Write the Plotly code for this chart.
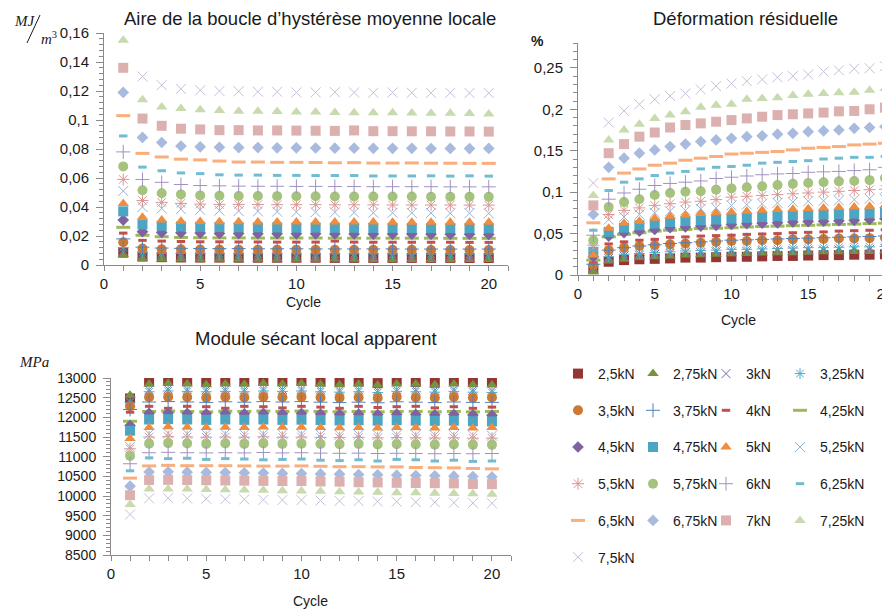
import plotly.graph_objects as go

cycles = list(range(1, 21))
load_labels = ["2,5kN", "2,75kN", "3kN", "3,25kN", "3,5kN", "3,75kN", "4kN", "4,25kN",
               "4,5kN", "4,75kN", "5kN", "5,25kN", "5,5kN", "5,75kN", "6kN", "6,25kN",
               "6,5kN", "6,75kN", "7kN", "7,25kN", "7,5kN"]

# ---- Aire de la boucle d'hystérèse moyenne locale (MJ/m3) ----
aire_250 = [0.0085, 0.0058, 0.0054, 0.0052, 0.0051, 0.0051, 0.005, 0.005, 0.005, 0.005, 0.005, 0.0049, 0.0049, 0.0049, 0.0049, 0.0049, 0.0049, 0.0049, 0.0048, 0.0048]
aire_275 = [0.0072, 0.0045, 0.0042, 0.0041, 0.004, 0.004, 0.004, 0.0039, 0.0039, 0.0039, 0.0039, 0.0039, 0.0039, 0.0038, 0.0038, 0.0038, 0.0038, 0.0038, 0.0038, 0.0038]
aire_300 = [0.009, 0.0062, 0.0058, 0.0056, 0.0055, 0.0055, 0.0054, 0.0054, 0.0054, 0.0054, 0.0053, 0.0053, 0.0053, 0.0053, 0.0053, 0.0053, 0.0052, 0.0052, 0.0052, 0.0052]
aire_325 = [0.012, 0.0085, 0.008, 0.0079, 0.0078, 0.0078, 0.0077, 0.0077, 0.0077, 0.0076, 0.0076, 0.0076, 0.0076, 0.0076, 0.0075, 0.0075, 0.0075, 0.0075, 0.0075, 0.0075]
aire_350 = [0.0157, 0.0113, 0.0109, 0.0108, 0.0107, 0.0107, 0.0106, 0.0106, 0.0106, 0.0106, 0.0105, 0.0105, 0.0105, 0.0105, 0.0105, 0.0105, 0.0104, 0.0104, 0.0104, 0.0104]
aire_375 = [0.018, 0.0123, 0.0117, 0.0115, 0.0114, 0.0113, 0.0113, 0.0112, 0.0112, 0.0112, 0.0111, 0.0111, 0.0111, 0.0111, 0.0111, 0.011, 0.011, 0.011, 0.011, 0.011]
aire_400 = [0.022, 0.017, 0.0165, 0.0162, 0.016, 0.016, 0.0159, 0.0159, 0.0158, 0.0158, 0.0158, 0.0165, 0.0158, 0.0157, 0.0157, 0.0157, 0.0157, 0.0157, 0.0156, 0.0156]
aire_425 = [0.026, 0.0205, 0.0195, 0.019, 0.0188, 0.0187, 0.0187, 0.0186, 0.0186, 0.0186, 0.0186, 0.0185, 0.0185, 0.0185, 0.0185, 0.0185, 0.0185, 0.0184, 0.0184, 0.0184]
aire_450 = [0.031, 0.023, 0.0225, 0.0222, 0.022, 0.0218, 0.0217, 0.0216, 0.0216, 0.0215, 0.0215, 0.0214, 0.0214, 0.0213, 0.0213, 0.0213, 0.0212, 0.0212, 0.0212, 0.0211]
aire_475 = [0.037, 0.028, 0.027, 0.0266, 0.0264, 0.0262, 0.026, 0.026, 0.0259, 0.0258, 0.0258, 0.0257, 0.0257, 0.0256, 0.0256, 0.0255, 0.0255, 0.0255, 0.0254, 0.0254]
aire_500 = [0.0425, 0.033, 0.031, 0.0302, 0.03, 0.0298, 0.0298, 0.0297, 0.0297, 0.0297, 0.0296, 0.0296, 0.0296, 0.0296, 0.0295, 0.0295, 0.0295, 0.0295, 0.0295, 0.0295]
aire_525 = [0.051, 0.04, 0.039, 0.0385, 0.038, 0.0375, 0.0372, 0.037, 0.0368, 0.0365, 0.0364, 0.0363, 0.0362, 0.036, 0.036, 0.0359, 0.0358, 0.0357, 0.0357, 0.0356]
aire_550 = [0.059, 0.0445, 0.0432, 0.0425, 0.042, 0.0418, 0.0418, 0.0417, 0.0416, 0.0416, 0.0416, 0.0415, 0.0415, 0.0415, 0.0414, 0.0414, 0.0414, 0.0414, 0.0413, 0.0413]
aire_575 = [0.068, 0.0515, 0.0495, 0.0487, 0.048, 0.0478, 0.0476, 0.0476, 0.0475, 0.0474, 0.0474, 0.0473, 0.0473, 0.0472, 0.0472, 0.0472, 0.0471, 0.0471, 0.0471, 0.047]
aire_600 = [0.078, 0.059, 0.057, 0.0555, 0.0548, 0.0546, 0.0544, 0.0543, 0.0543, 0.0542, 0.0542, 0.0541, 0.0541, 0.054, 0.054, 0.054, 0.054, 0.0539, 0.0539, 0.0539]
aire_625 = [0.089, 0.0675, 0.065, 0.0635, 0.063, 0.0622, 0.062, 0.062, 0.0618, 0.0618, 0.0617, 0.0617, 0.0617, 0.0614, 0.0614, 0.0614, 0.0615, 0.0613, 0.0615, 0.0613]
aire_650 = [0.103, 0.077, 0.0745, 0.073, 0.0725, 0.0717, 0.071, 0.071, 0.0708, 0.0708, 0.0707, 0.0705, 0.0706, 0.0703, 0.0703, 0.0704, 0.0702, 0.0702, 0.0701, 0.0701]
aire_675 = [0.119, 0.088, 0.0845, 0.082, 0.0815, 0.0812, 0.081, 0.081, 0.0808, 0.0808, 0.0807, 0.0806, 0.0806, 0.0805, 0.0805, 0.0805, 0.0803, 0.0804, 0.0803, 0.0804]
aire_700 = [0.136, 0.101, 0.096, 0.094, 0.0935, 0.093, 0.093, 0.0928, 0.0928, 0.0927, 0.0926, 0.0925, 0.0928, 0.0923, 0.0923, 0.0922, 0.0922, 0.0921, 0.0921, 0.092]
aire_725 = [0.155, 0.114, 0.109, 0.108, 0.107, 0.1065, 0.106, 0.106, 0.1058, 0.1055, 0.1055, 0.1052, 0.105, 0.105, 0.105, 0.1048, 0.1047, 0.1046, 0.1045, 0.1042]
aire_750 = [0.178, 0.13, 0.124, 0.1215, 0.1205, 0.12, 0.1198, 0.1195, 0.1195, 0.119, 0.119, 0.1192, 0.119, 0.1188, 0.119, 0.1188, 0.1187, 0.1188, 0.1186, 0.1186]

# ---- Déformation résiduelle (%) ----
def_250 = [0.007, 0.016, 0.018, 0.019, 0.0195, 0.02, 0.021, 0.021, 0.0215, 0.022, 0.022, 0.0225, 0.023, 0.023, 0.0235, 0.024, 0.024, 0.0245, 0.0245, 0.025]
def_275 = [0.004, 0.017, 0.019, 0.021, 0.022, 0.023, 0.024, 0.0245, 0.025, 0.0255, 0.026, 0.0265, 0.027, 0.027, 0.0275, 0.028, 0.028, 0.0285, 0.0285, 0.029]
def_300 = [0.009, 0.02, 0.023, 0.024, 0.025, 0.026, 0.027, 0.027, 0.028, 0.028, 0.0285, 0.029, 0.029, 0.0295, 0.03, 0.03, 0.0305, 0.031, 0.031, 0.032]
def_325 = [0.01, 0.022, 0.025, 0.026, 0.027, 0.028, 0.029, 0.0295, 0.03, 0.031, 0.031, 0.0315, 0.032, 0.0325, 0.033, 0.033, 0.0335, 0.034, 0.034, 0.0345]
def_350 = [0.012, 0.03, 0.033, 0.035, 0.036, 0.037, 0.038, 0.039, 0.04, 0.041, 0.041, 0.042, 0.042, 0.043, 0.043, 0.0435, 0.044, 0.044, 0.0445, 0.045]
def_375 = [0.013, 0.03, 0.033, 0.035, 0.0365, 0.038, 0.039, 0.04, 0.041, 0.042, 0.0425, 0.043, 0.0435, 0.044, 0.0445, 0.045, 0.0455, 0.046, 0.0465, 0.047]
def_400 = [0.016, 0.0375, 0.04, 0.042, 0.043, 0.0455, 0.046, 0.047, 0.0475, 0.048, 0.049, 0.0495, 0.05, 0.051, 0.0515, 0.052, 0.053, 0.0535, 0.054, 0.0545]
def_425 = [0.018, 0.046, 0.049, 0.051, 0.053, 0.054, 0.055, 0.056, 0.0565, 0.057, 0.058, 0.0585, 0.059, 0.0595, 0.06, 0.0605, 0.061, 0.0615, 0.062, 0.0625]
def_450 = [0.022, 0.047, 0.051, 0.053, 0.055, 0.057, 0.058, 0.059, 0.06, 0.061, 0.062, 0.0625, 0.063, 0.064, 0.0645, 0.065, 0.0655, 0.066, 0.067, 0.068]
def_475 = [0.028, 0.052, 0.057, 0.06, 0.062, 0.064, 0.065, 0.066, 0.067, 0.068, 0.069, 0.07, 0.071, 0.072, 0.0725, 0.073, 0.0735, 0.074, 0.0745, 0.075]
def_500 = [0.024, 0.0565, 0.0625, 0.065, 0.0685, 0.071, 0.072, 0.0745, 0.075, 0.076, 0.077, 0.078, 0.079, 0.0795, 0.08, 0.081, 0.0815, 0.082, 0.083, 0.084]
def_525 = [0.033, 0.067, 0.07, 0.073, 0.075, 0.077, 0.078, 0.08, 0.081, 0.084, 0.085, 0.086, 0.087, 0.088, 0.089, 0.0895, 0.09, 0.091, 0.092, 0.092]
def_550 = [0.036, 0.073, 0.078, 0.081, 0.084, 0.086, 0.088, 0.089, 0.091, 0.094, 0.095, 0.096, 0.097, 0.098, 0.099, 0.1, 0.101, 0.102, 0.103, 0.1035]
def_575 = [0.042, 0.082, 0.088, 0.0915, 0.0965, 0.099, 0.1005, 0.101, 0.103, 0.1045, 0.106, 0.107, 0.1085, 0.11, 0.111, 0.112, 0.113, 0.1135, 0.1145, 0.117]
def_600 = [0.048, 0.0915, 0.099, 0.1035, 0.108, 0.1105, 0.112, 0.1135, 0.1165, 0.118, 0.1195, 0.121, 0.122, 0.1225, 0.124, 0.1245, 0.125, 0.126, 0.127, 0.13]
def_625 = [0.054, 0.102, 0.112, 0.116, 0.12, 0.123, 0.125, 0.128, 0.13, 0.131, 0.1325, 0.135, 0.136, 0.137, 0.138, 0.14, 0.141, 0.142, 0.142, 0.143]
def_650 = [0.063, 0.116, 0.123, 0.128, 0.1325, 0.135, 0.1385, 0.141, 0.143, 0.146, 0.147, 0.148, 0.149, 0.151, 0.153, 0.154, 0.155, 0.157, 0.158, 0.159]
def_675 = [0.073, 0.13, 0.141, 0.147, 0.151, 0.155, 0.158, 0.161, 0.163, 0.165, 0.167, 0.168, 0.17, 0.171, 0.173, 0.174, 0.175, 0.177, 0.178, 0.179]
def_700 = [0.084, 0.147, 0.158, 0.167, 0.172, 0.178, 0.181, 0.183, 0.185, 0.187, 0.189, 0.191, 0.193, 0.194, 0.195, 0.196, 0.1975, 0.198, 0.2, 0.202]
def_725 = [0.096, 0.163, 0.175, 0.182, 0.189, 0.193, 0.197, 0.2025, 0.205, 0.206, 0.212, 0.213, 0.214, 0.2165, 0.218, 0.219, 0.22, 0.2205, 0.223, 0.225]
def_750 = [0.111, 0.184, 0.198, 0.206, 0.212, 0.216, 0.219, 0.224, 0.228, 0.231, 0.234, 0.236, 0.2385, 0.24, 0.242, 0.2455, 0.247, 0.249, 0.2495, 0.252]

# ---- Module sécant local apparent (MPa) ----
mod_250 = [12480, 12920, 12940, 12930, 12900, 12935, 12925, 12945, 12930, 12950, 12925, 12910, 12920, 12870, 12950, 12900, 12880, 12950, 12930, 12920]
mod_275 = [12560, 12840, 12860, 12850, 12830, 12850, 12840, 12860, 12850, 12860, 12840, 12830, 12840, 12820, 12850, 12845, 12830, 12850, 12830, 12820]
mod_300 = [12420, 12700, 12720, 12710, 12700, 12710, 12700, 12720, 12710, 12720, 12700, 12690, 12700, 12680, 12710, 12700, 12690, 12710, 12690, 12680]
mod_325 = [12380, 12650, 12670, 12660, 12650, 12660, 12650, 12670, 12660, 12670, 12650, 12640, 12650, 12630, 12660, 12650, 12640, 12660, 12640, 12630]
mod_350 = [12280, 12510, 12520, 12510, 12500, 12515, 12505, 12520, 12510, 12520, 12505, 12495, 12505, 12490, 12515, 12505, 12495, 12515, 12500, 12505]
mod_375 = [12200, 12390, 12400, 12390, 12380, 12395, 12385, 12400, 12390, 12400, 12385, 12375, 12385, 12370, 12395, 12385, 12375, 12390, 12380, 12380]
mod_400 = [12130, 12280, 12230, 12280, 12270, 12230, 12280, 12270, 12240, 12280, 12260, 12230, 12280, 12250, 12270, 12280, 12240, 12270, 12230, 12260]
mod_425 = [11900, 12150, 12160, 12150, 12140, 12155, 12150, 12160, 12150, 12160, 12150, 12140, 12150, 12140, 12150, 12150, 12140, 12150, 12140, 12150]
mod_450 = [11790, 12100, 12110, 12100, 12090, 12100, 12090, 12100, 12090, 12095, 12085, 12075, 12080, 12070, 12080, 12075, 12065, 12070, 12060, 12050]
mod_475 = [11660, 11945, 11955, 11945, 11935, 11945, 11935, 11945, 11935, 11940, 11930, 11920, 11925, 11915, 11925, 11915, 11910, 11915, 11900, 11895]
mod_500 = [11460, 11740, 11760, 11750, 11740, 11750, 11740, 11755, 11745, 11750, 11740, 11735, 11740, 11730, 11740, 11735, 11730, 11740, 11730, 11740]
mod_525 = [11250, 11580, 11590, 11580, 11570, 11580, 11570, 11580, 11570, 11575, 11565, 11555, 11560, 11550, 11555, 11550, 11545, 11550, 11540, 11535]
mod_550 = [11200, 11500, 11510, 11500, 11495, 11500, 11495, 11505, 11495, 11500, 11490, 11485, 11490, 11480, 11485, 11480, 11475, 11480, 11470, 11470]
mod_575 = [11020, 11330, 11345, 11335, 11325, 11335, 11325, 11335, 11325, 11330, 11320, 11315, 11320, 11310, 11315, 11310, 11305, 11310, 11300, 11300]
mod_600 = [10820, 11100, 11110, 11100, 11095, 11100, 11095, 11105, 11095, 11100, 11090, 11085, 11090, 11080, 11085, 11080, 11075, 11080, 11075, 11080]
mod_625 = [10640, 10970, 10950, 10960, 10930, 10950, 10940, 10920, 10930, 10940, 10910, 10900, 10920, 10890, 10930, 10920, 10890, 10910, 10880, 10890]
mod_650 = [10455, 10765, 10780, 10770, 10770, 10770, 10765, 10760, 10760, 10765, 10755, 10745, 10745, 10740, 10740, 10725, 10720, 10715, 10700, 10690]
mod_675 = [10250, 10610, 10615, 10605, 10600, 10595, 10590, 10585, 10575, 10570, 10560, 10555, 10545, 10540, 10530, 10520, 10515, 10505, 10495, 10485]
mod_700 = [10020, 10405, 10410, 10405, 10400, 10395, 10390, 10385, 10380, 10380, 10370, 10365, 10350, 10345, 10335, 10330, 10325, 10320, 10305, 10300]
mod_725 = [9785, 10175, 10180, 10175, 10165, 10160, 10150, 10145, 10135, 10130, 10120, 10110, 10100, 10095, 10085, 10080, 10070, 10065, 10055, 10045]
mod_750 = [9530, 9940, 9945, 9935, 9930, 9920, 9915, 9905, 9900, 9895, 9885, 9875, 9870, 9860, 9855, 9845, 9840, 9830, 9820, 9815]

x_ticks = [0, 5, 10, 15, 20]
aire_ticks = [0, 0.02, 0.04, 0.06, 0.08, 0.1, 0.12, 0.14, 0.16]
aire_ticktext = ["0", "0,02", "0,04", "0,06", "0,08", "0,1", "0,12", "0,14", "0,16"]
def_ticks = [0, 0.05, 0.1, 0.15, 0.2, 0.25]
def_ticktext = ["0", "0,05", "0,1", "0,15", "0,2", "0,25"]
mod_ticks = [8500, 9000, 9500, 10000, 10500, 11000, 11500, 12000, 12500, 13000]
mod_ticktext = ["8500", "9000", "9500", "10000", "10500", "11000", "11500", "12000", "12500", "13000"]

aire_all = [aire_250, aire_275, aire_300, aire_325, aire_350, aire_375, aire_400, aire_425, aire_450, aire_475,
            aire_500, aire_525, aire_550, aire_575, aire_600, aire_625, aire_650, aire_675, aire_700, aire_725, aire_750]
def_all = [def_250, def_275, def_300, def_325, def_350, def_375, def_400, def_425, def_450, def_475,
           def_500, def_525, def_550, def_575, def_600, def_625, def_650, def_675, def_700, def_725, def_750]
mod_all = [mod_250, mod_275, mod_300, mod_325, mod_350, mod_375, mod_400, mod_425, mod_450, mod_475,
           mod_500, mod_525, mod_550, mod_575, mod_600, mod_625, mod_650, mod_675, mod_700, mod_725, mod_750]

# styles: (symbol, size, color, line width)
styles = [
    ("square", 10, "#943634", 0),
    ("triangle-up", 10, "#77933C", 0),
    ("x-thin-open", 9, "#8064A2", 1),
    ("asterisk-open", 9, "#4BACC6", 1),
    ("circle", 10, "#CC7A33", 0),
    ("cross-thin-open", 10, "#4F81BD", 1),
    ("line-ew-open", 6, "#C0504D", 3),
    ("line-ew-open", 10, "#9BBB59", 3),
    ("diamond", 9, "#7F62A0", 0),
    ("square", 10, "#4BA5C3", 0),
    ("triangle-up", 10, "#F08C3E", 0),
    ("x-thin-open", 10, "#95B3D7", 1),
    ("asterisk-open", 10, "#D99694", 1),
    ("circle", 10, "#A5C37D", 0),
    ("cross-thin-open", 10, "#A092C0", 1),
    ("line-ew-open", 6, "#72BCD2", 3),
    ("line-ew-open", 10, "#F9AE7C", 3),
    ("diamond", 9, "#A8BADD", 0),
    ("square", 10, "#DDB0B0", 0),
    ("triangle-up", 10, "#C8DAAE", 0),
    ("x-thin-open", 10, "#CABED9", 1),
]

SANS = "Liberation Sans, Arial, sans-serif"
SERIF = "Liberation Serif, Times New Roman, serif"
TXT = "#1a1a1a"
AX = "#8a8a8a"

fig = go.Figure()
legend_ids = ["legend", "legend2", "legend3", "legend4"]
for i, name in enumerate(load_labels):
    sym, size, color, lw = styles[i]
    marker = dict(symbol=sym, size=size, color=color, line=dict(color=color, width=lw))
    for j, (vals, xa, ya) in enumerate([(aire_all[i], "x", "y"), (def_all[i], "x2", "y2"), (mod_all[i], "x3", "y3")]):
        fig.add_trace(go.Scatter(
            x=cycles, y=vals, mode="markers", name=name, marker=marker,
            xaxis=xa, yaxis=ya, legendgroup=name, showlegend=(j == 0),
            legend=legend_ids[i % 4], cliponaxis=True,
        ))

W, H = 890, 612
OFF = 8  # page offset of the figure inside the browser window

def px_x(p):
    return (p - OFF) / W

def px_y(p):
    return 1 - (p - OFF) / H

common_x = dict(
    showline=True, linecolor=AX, linewidth=1, showgrid=False, zeroline=False,
    ticks="outside", ticklen=5, tickcolor=AX, tickvals=x_ticks,
    minor=dict(dtick=1, ticks="outside", ticklen=5, tickcolor=AX, showgrid=False),
    tickfont=dict(family=SANS, size=15, color=TXT), fixedrange=True, automargin=False,
)
common_y = dict(
    showline=True, linecolor=AX, linewidth=1, showgrid=False, zeroline=False,
    ticks="outside", ticklen=7, tickcolor=AX, ticklabelstandoff=4,
    tickfont=dict(family=SANS, size=15, color=TXT), fixedrange=True, automargin=False,
)

fig.update_layout(
    width=W, height=H,
    margin=dict(l=0, r=0, t=0, b=0, pad=0, autoexpand=False),
    paper_bgcolor="white", plot_bgcolor="white",
    xaxis=dict(common_x, domain=[px_x(104), px_x(508)], range=[0, 21], anchor="y"),
    yaxis=dict(common_y, domain=[px_y(265), px_y(33)], range=[0, 0.16], anchor="x",
               tickvals=aire_ticks, ticktext=aire_ticktext,
               minor=dict(dtick=0.004, ticks="outside", ticklen=4, tickcolor=AX, showgrid=False)),
    xaxis2=dict(common_x, domain=[px_x(578), px_x(890)], range=[0, 20.33], anchor="y2"),
    yaxis2=dict(common_y, domain=[px_y(275), px_y(43)], range=[0, 0.28], anchor="x2",
                tickvals=def_ticks, ticktext=def_ticktext,
                minor=dict(dtick=0.01, ticks="outside", ticklen=4, tickcolor=AX, showgrid=False)),
    xaxis3=dict(common_x, domain=[px_x(111), px_x(511)], range=[0, 21], anchor="y3"),
    yaxis3=dict(common_y, domain=[px_y(555), px_y(378)], range=[8500, 13000], anchor="x3",
                tickvals=mod_ticks, ticktext=mod_ticktext,
                tickfont=dict(family=SANS, size=14, color=TXT),
                minor=dict(dtick=100, ticks="outside", ticklen=4, tickcolor=AX, showgrid=False)),
    showlegend=True,
)

legend_x_px = [558, 633, 706, 780]
for k, lid in enumerate(legend_ids):
    fig.update_layout({lid: dict(
        x=px_x(legend_x_px[k]), y=px_y(358), xanchor="left", yanchor="top",
        orientation="v", tracegroupgap=15.5, bgcolor="rgba(0,0,0,0)",
        font=dict(family=SANS, size=14, color=TXT), itemclick=False, itemdoubleclick=False,
    )})

def ann(text, x, y, size, family=SANS, xanchor="center", color=TXT):
    fig.add_annotation(text=text, x=px_x(x), y=px_y(y), xref="paper", yref="paper",
                       showarrow=False, xanchor=xanchor, yanchor="middle",
                       font=dict(family=family, size=size, color=color))

ann("Aire de la boucle d\u2019hystérèse moyenne locale", 310, 18, 18.5)
ann("Déformation résiduelle", 745, 18, 18.5)
ann("Module sécant local apparent", 316, 338, 18.5)
ann("Cycle", 303, 302, 14)
ann("Cycle", 738, 320, 14)
ann("Cycle", 310, 601, 14)
ann("<i>MJ</i>", 24, 21, 15, SERIF)
ann("<i>m</i><sup>3</sup>", 49, 38, 15, SERIF)
ann("<b>%</b>", 537, 41, 14, SANS)
ann("<i>MPa</i>", 34, 362, 15, SERIF)

# fraction slash of the MJ/m3 unit
fig.add_shape(type="line", xref="paper", yref="paper",
              x0=px_x(27), y0=px_y(43), x1=px_x(40), y1=px_y(15),
              line=dict(color=TXT, width=1))

fig.write_html("out.html")
